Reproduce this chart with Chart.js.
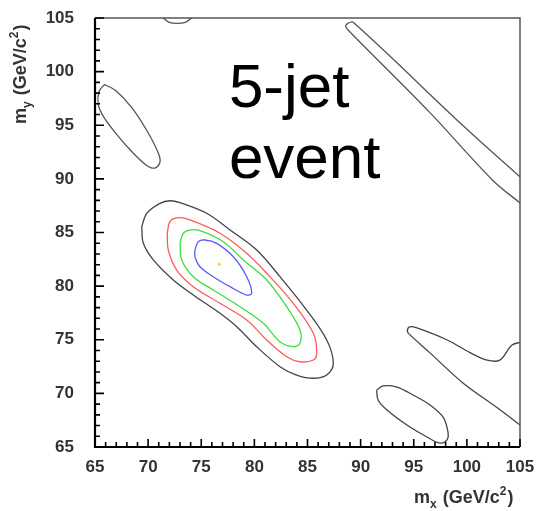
<!DOCTYPE html>
<html>
<head>
<meta charset="utf-8">
<script src="https://cdn.jsdelivr.net/npm/chart.js@4.4.1/dist/chart.umd.min.js"></script>
<style>
  body { margin: 0; background: #fff; }
  #wrap { width: 536px; height: 511px; position: relative; }
</style>
</head>
<body>
<div id="wrap"><canvas id="massChart"></canvas></div>
<script>
// axis range and tick labels (GeV/c^2)
const axisMin = 65;
const axisMax = 105;
const tickLabels = [65, 70, 75, 80, 85, 90, 95, 100, 105];

// contour levels, [mx, my]
const innerContour = [
  [74.41, 83.37], [74.72, 84.14], [75.35, 84.30], [76.45, 83.99], [78.02, 82.74],
  [79.28, 80.88], [79.75, 79.33], [79.28, 79.17], [77.71, 79.95], [76.13, 80.88],
  [74.88, 81.81], [74.41, 82.74], [74.41, 83.37]
];
const greenContour = [
  [73.0, 83.99], [73.31, 84.93], [73.94, 85.23], [74.88, 85.17], [77.08, 84.14],
  [78.96, 82.44], [81.16, 80.57], [83.04, 78.08], [84.29, 75.91], [84.29, 74.67],
  [83.66, 74.35], [82.41, 74.82], [80.84, 76.53], [78.65, 78.08], [76.13, 79.64],
  [74.25, 80.88], [73.16, 82.44], [73.0, 83.99]
];
const redContour = [
  [71.80, 84.93], [72.06, 86.01], [72.84, 86.38], [73.94, 86.17], [76.76, 84.93],
  [79.28, 83.06], [81.16, 81.20], [83.66, 78.40], [85.55, 75.60], [85.87, 73.74],
  [85.55, 73.11], [84.29, 72.95], [83.04, 73.42], [81.16, 74.98], [79.28, 76.84],
  [76.76, 78.40], [74.25, 79.95], [72.69, 81.50], [71.90, 83.37], [71.80, 84.93]
];
const outerContour = [
  [69.40, 85.54], [69.87, 86.79], [71.12, 87.72], [72.06, 87.96], [73.0, 87.78],
  [75.51, 86.79], [77.71, 85.23], [80.22, 83.37], [82.41, 80.88], [84.92, 77.77],
  [86.81, 74.98], [87.43, 72.80], [86.81, 71.71], [85.55, 71.41], [83.98, 71.71],
  [82.41, 72.49], [80.22, 74.35], [78.34, 76.22], [76.76, 77.47], [74.25, 79.17],
  [72.37, 80.57], [70.49, 82.44], [69.55, 83.99], [69.40, 85.54]
];
const leftIsland = [
  [65.9, 98.8], [67.0, 98.2], [68.5, 96.6], [70.0, 94.3], [71.0, 92.3], [71.1, 91.5],
  [70.6, 91.0], [69.8, 91.3], [68.5, 92.5], [67.0, 94.2], [65.8, 95.8], [65.3, 97.0],
  [65.4, 98.2], [65.9, 98.8]
];
const topArc = [[71.3, 105.1], [72.0, 104.6], [72.7, 104.5], [73.5, 104.6], [74.2, 105.1]];
const diagonalBand = [
  [105.2, 90.0], [99.6, 95.0], [89.3, 104.6], [88.8, 104.5], [88.6, 104.2],
  [89.0, 103.7], [96.5, 96.2], [102.4, 89.9], [105.2, 87.6]
];
const lowerRightBand = [
  [105.2, 74.8], [104.25, 74.5], [103.1, 73.1], [101.9, 73.1], [100.3, 73.8], [98.1, 75.0],
  [95.3, 76.1], [94.6, 76.2], [94.4, 75.8], [94.6, 75.5], [96.5, 73.8], [99.6, 71.0],
  [102.8, 68.7], [105.2, 66.9]
];
const bottomIsland = [
  [91.51, 70.31], [92.11, 70.69], [93.42, 70.59], [94.93, 69.85], [96.53, 68.92],
  [97.75, 67.80], [98.22, 66.40], [98.13, 65.66], [97.47, 65.37], [96.25, 65.93],
  [94.36, 67.05], [92.48, 68.45], [91.64, 69.38], [91.51, 70.31]
];
const peakPoint = [[76.7, 82.03]];

const toPoints = arr => arr.map(p => ({ x: p[0], y: p[1] }));

const contourLine = (data, color) => ({
  data: toPoints(data),
  showLine: true,
  borderColor: color,
  borderWidth: 1.3,
  pointRadius: 0,
  tension: 0.35,
  fill: false
});

// inward ticks, frame, axis titles and the label text
const decorPlugin = {
  id: 'decor',
  afterDatasetsDraw(chart) {
    const { ctx, chartArea: a, scales: { x, y } } = chart;
    ctx.save();
    // top/right frame
    ctx.strokeStyle = '#555';
    ctx.lineWidth = 1.5;
    ctx.beginPath();
    ctx.moveTo(a.left, a.top);
    ctx.lineTo(a.right, a.top);
    ctx.lineTo(a.right, a.bottom);
    ctx.stroke();
    // left/bottom axes
    ctx.strokeStyle = '#000';
    ctx.lineWidth = 2.2;
    ctx.beginPath();
    ctx.moveTo(a.left, a.top);
    ctx.lineTo(a.left, a.bottom);
    ctx.lineTo(a.right, a.bottom);
    ctx.stroke();
    // minor + major ticks pointing inside
    ctx.lineWidth = 1.6;
    ctx.beginPath();
    for (let v = axisMin; v <= axisMax; v++) {
      const major = v % 5 === 0;
      const px = x.getPixelForValue(v);
      ctx.moveTo(px, a.bottom);
      ctx.lineTo(px, a.bottom - (major ? 8 : 5));
      const py = y.getPixelForValue(v);
      ctx.moveTo(a.left, py);
      ctx.lineTo(a.left + (major ? 9 : 5), py);
    }
    ctx.stroke();

    // axis titles
    ctx.fillStyle = '#333';
    ctx.textBaseline = 'alphabetic';
    const big = 'bold 18px "Liberation Sans", Arial, sans-serif';
    const small = 'bold 12px "Liberation Sans", Arial, sans-serif';
    const drawTitle = (sub, startX, baseY) => {
      let cx = startX;
      ctx.font = big;
      ctx.fillText('m', cx, baseY);
      cx += ctx.measureText('m').width;
      ctx.font = small;
      ctx.fillText(sub, cx, baseY + 5);
      cx += ctx.measureText(sub).width + 6;
      ctx.font = big;
      ctx.fillText('(GeV/c', cx, baseY);
      cx += ctx.measureText('(GeV/c').width;
      ctx.font = small;
      ctx.fillText('2', cx, baseY - 8);
      cx += ctx.measureText('2').width + 1;
      ctx.font = big;
      ctx.fillText(')', cx, baseY);
    };
    drawTitle('x', 414, 503);
    ctx.save();
    ctx.translate(26, 124);
    ctx.rotate(-Math.PI / 2);
    drawTitle('y', 0, 0);
    ctx.restore();

    // event label
    ctx.fillStyle = '#000';
    ctx.font = '62px "Liberation Sans", Arial, sans-serif';
    ctx.fillText('5-jet', x.getPixelForValue(77.6), y.getPixelForValue(96.7));
    ctx.fillText('event', x.getPixelForValue(77.6), y.getPixelForValue(90.1));
    ctx.restore();
  }
};

const tickFont = { family: '"Liberation Sans", Arial, sans-serif', size: 17, weight: 'bold' };

new Chart(document.getElementById('massChart'), {
  type: 'scatter',
  data: {
    datasets: [
      contourLine(outerContour, '#444'),
      contourLine(redContour, '#ff5a5a'),
      contourLine(greenContour, '#3fdc3f'),
      contourLine(innerContour, '#5a5aff'),
      contourLine(leftIsland, '#555'),
      contourLine(topArc, '#555'),
      contourLine(diagonalBand, '#555'),
      contourLine(lowerRightBand, '#444'),
      contourLine(bottomIsland, '#444'),
      { data: toPoints(peakPoint), pointRadius: 1.5, pointBackgroundColor: '#ffd800', pointBorderWidth: 0 }
    ]
  },
  options: {
    responsive: true,
    maintainAspectRatio: false,
    animation: false,
    layout: { padding: { top: 18, right: 16, left: 0, bottom: 0 } },
    plugins: { legend: { display: false }, tooltip: { enabled: false } },
    scales: {
      x: {
        type: 'linear',
        min: axisMin,
        max: axisMax,
        afterFit: s => { s.height = 64; s.paddingLeft = 0; s.paddingRight = 0; },
        afterBuildTicks: s => { s.ticks = tickLabels.map(v => ({ value: v })); },
        grid: { display: false, drawTicks: false },
        border: { display: false },
        ticks: { color: '#333', font: tickFont, padding: 10, maxRotation: 0 }
      },
      y: {
        type: 'linear',
        min: axisMin,
        max: axisMax,
        afterFit: s => { s.width = 95; s.paddingTop = 0; s.paddingBottom = 0; },
        afterBuildTicks: s => { s.ticks = tickLabels.map(v => ({ value: v })); },
        grid: { display: false, drawTicks: false },
        border: { display: false },
        ticks: { color: '#333', font: tickFont, padding: 21 }
      }
    }
  },
  plugins: [decorPlugin]
});
</script>
</body>
</html>
